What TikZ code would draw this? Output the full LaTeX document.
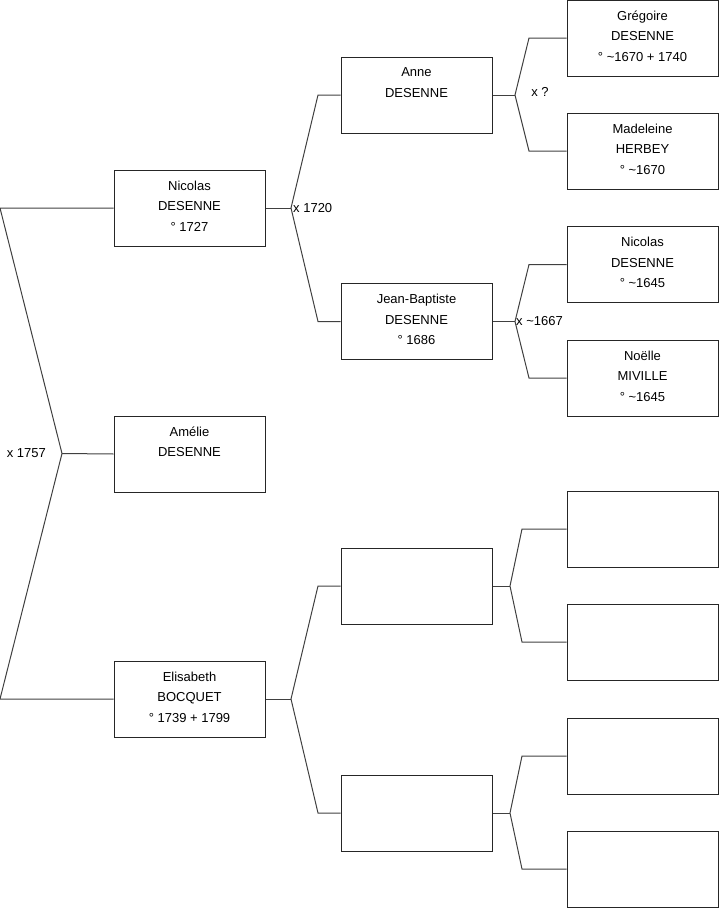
\documentclass[tikz,border=0pt]{standalone}
\usepackage{fontspec}
\setmainfont{Liberation Sans}
\usepackage{tikz}

\begin{document}
\begin{tikzpicture}[x=1pt, y=-1pt,
    box/.style={draw=black!85, line width=1pt, minimum width=151pt, minimum height=76pt, inner sep=0pt},
    who/.style={anchor=north, align=center, inner sep=0pt, font=\fontsize{13}{20.5}\selectfont},
    wed/.style={inner sep=0pt, font=\fontsize{13}{14}\selectfont},
    link/.style={draw=black!75, line width=1pt}]
            \useasboundingbox (0,0) rectangle (719,908);

            % generation 1
            \node[box] (nicolas) at (189.5,208) {};
            \node[box] (amelie) at (189.5,454) {};
            \node[box] (elisabeth) at (189.5,699) {};
            \node[who] (nicolas-t) at ([yshift=-11pt]nicolas.north) {Nicolas\\DESENNE\\° 1727};
            \node[who] (amelie-t) at ([yshift=-11pt]amelie.north) {Amélie\\DESENNE};
            \node[who] (elisabeth-t) at ([yshift=-11pt]elisabeth.north) {Elisabeth\\BOCQUET\\° 1739 + 1799};

            % generation 2
            \node[box] (anne) at (416.5,95) {};
            \node[box] (jb) at (416.5,321.5) {};
            \node[box] (e1) at (416.5,586) {};
            \node[box] (e2) at (416.5,813) {};
            \node[who] (anne-t) at ([yshift=-11pt]anne.north) {Anne\\DESENNE};
            \node[who] (jb-t) at ([yshift=-11pt]jb.north) {Jean-Baptiste\\DESENNE\\° 1686};

            % generation 3
            \node[box] (gregoire) at (642.5,38) {};
            \node[box] (madeleine) at (642.5,151) {};
            \node[box] (nicolas2) at (642.5,264.5) {};
            \node[box] (noelle) at (642.5,378) {};
            \node[box] (e11) at (642.5,529) {};
            \node[box] (e12) at (642.5,642) {};
            \node[box] (e21) at (642.5,756) {};
            \node[box] (e22) at (642.5,869) {};
            \node[who] (gregoire-t) at ([yshift=-11pt]gregoire.north) {Grégoire\\DESENNE\\° \textasciitilde1670 + 1740};
            \node[who] (madeleine-t) at ([yshift=-11pt]madeleine.north) {Madeleine\\HERBEY\\° \textasciitilde1670};
            \node[who] (nicolas2-t) at ([yshift=-11pt]nicolas2.north) {Nicolas\\DESENNE\\° \textasciitilde1645};
            \node[who] (noelle-t) at ([yshift=-11pt]noelle.north) {Noëlle\\MIVILLE\\° \textasciitilde1645};

            % forks
            \coordinate (f0) at (62,453.5);
            \coordinate (f0a) at (0,208);
            \coordinate (f0b) at (0,699);
            \coordinate (f1) at (291,208);
            \coordinate (f1a) at (318,95);
            \coordinate (f1b) at (318,321.5);
            \coordinate (f2) at (515,95);
            \coordinate (f2a) at (529,38);
            \coordinate (f2b) at (529,151);
            \coordinate (f3) at (515,321.5);
            \coordinate (f3a) at (529,264.5);
            \coordinate (f3b) at (529,378);
            \coordinate (f4) at (291,699);
            \coordinate (f4a) at (318,586);
            \coordinate (f4b) at (318,813);
            \coordinate (f5) at (510,586);
            \coordinate (f5a) at (522,529);
            \coordinate (f5b) at (522,642);
            \coordinate (f6) at (510,813);
            \coordinate (f6a) at (522,756);
            \coordinate (f6b) at (522,869);

            \draw[link] (nicolas.west) -- (f0a) -- (f0) -- (f0b) -- (elisabeth.west);
            \draw[link] (f0) -- (amelie.west);
            \draw[link] (nicolas.east) -- (f1);
            \draw[link] (anne.west) -- (f1a) -- (f1) -- (f1b) -- (jb.west);
            \draw[link] (anne.east) -- (f2);
            \draw[link] (gregoire.west) -- (f2a) -- (f2) -- (f2b) -- (madeleine.west);
            \draw[link] (jb.east) -- (f3);
            \draw[link] (nicolas2.west) -- (f3a) -- (f3) -- (f3b) -- (noelle.west);
            \draw[link] (elisabeth.east) -- (f4);
            \draw[link] (e1.west) -- (f4a) -- (f4) -- (f4b) -- (e2.west);
            \draw[link] (e1.east) -- (f5);
            \draw[link] (e11.west) -- (f5a) -- (f5) -- (f5b) -- (e12.west);
            \draw[link] (e2.east) -- (f6);
            \draw[link] (e21.west) -- (f6a) -- (f6) -- (f6b) -- (e22.west);

            % marriages
            \node[wed, anchor=east] (m0) at ([xshift=-16pt]f0) {x 1757};
            \node[wed, anchor=west] (m1) at ([xshift=2pt]f1) {x 1720};
            \node[wed] (m2) at (540,92) {x ?};
            \node[wed, anchor=west] (m3) at ([xshift=1pt]f3) {x \textasciitilde1667};
        \end{tikzpicture}
\end{document}
